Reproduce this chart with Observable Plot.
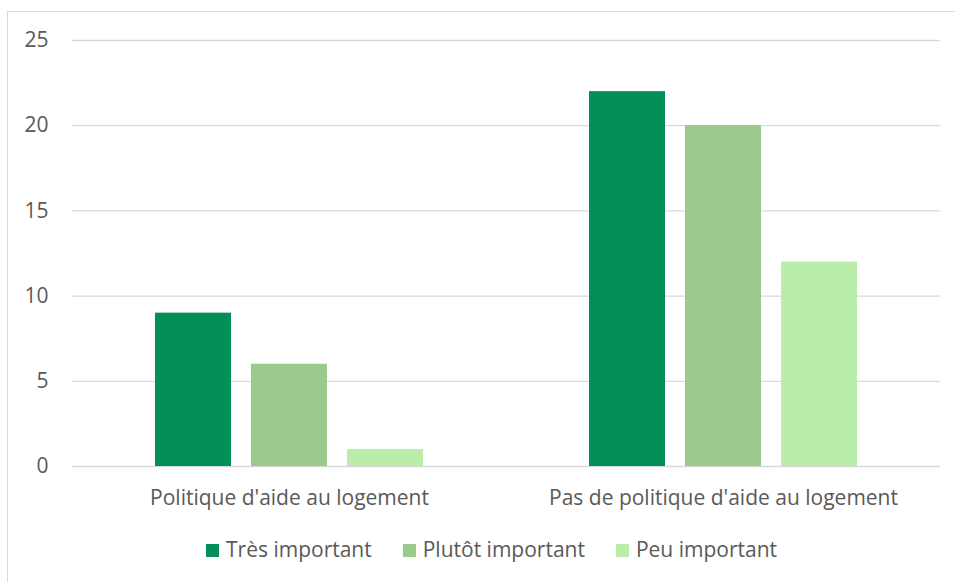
<!DOCTYPE html>
<html><head><meta charset="utf-8">
<script src="https://cdn.jsdelivr.net/npm/d3@7"></script>
<script src="https://cdn.jsdelivr.net/npm/@observablehq/plot@0.6"></script>
<style>
body{margin:0;background:#fff;font-family:"Open Sans",sans-serif;}
#frame{position:absolute;left:7px;top:11px;width:1000px;height:600px;border:1px solid #d9d9d9;box-sizing:border-box}
#chart{position:absolute;left:0;top:0}
#legend{position:absolute;left:206px;top:537px;display:flex;gap:31px;font-size:21px;line-height:25px;color:#595959;white-space:nowrap}
.item{display:flex;align-items:center}
.sw{width:13px;height:13px;margin-right:7px;margin-top:1px}
</style></head>
<body>
<div id="frame"></div>
<div id="chart"></div>
<div id="legend"></div>
<script>
const categories = ["Politique d'aide au logement", "Pas de politique d'aide au logement"];
const series = ["Très important", "Plutôt important", "Peu important"];
const valsPolitique = [9, 6, 1];
const valsPasPolitique = [22, 20, 12];
const colors = ["#038f58", "#9bca8d", "#bbedaa"];
const yTicks = [0, 5, 10, 15, 20, 25];

const data = [];
[valsPolitique, valsPasPolitique].forEach((vals, ci) => {
  vals.forEach((v, si) => data.push({category: categories[ci], series: series[si], value: v}));
});

const chart = Plot.plot({
  width: 955,
  height: 520,
  marginLeft: 71,
  marginRight: 15,
  marginTop: 40,
  marginBottom: 54,
  style: {fontFamily: "'Open Sans', sans-serif", fontSize: "21px", color: "#595959", background: "transparent"},
  fx: {domain: categories, padding: 0, label: null},
  x: {domain: series, paddingInner: 0.21, paddingOuter: 0.86, axis: null},
  y: {domain: [0, 25], label: null},
  color: {domain: series, range: colors},
  marks: [
    Plot.ruleY(yTicks, {stroke: "#d9d9d9", strokeWidth: 1.3}),
    Plot.barY(data, {fx: "category", x: "series", y: "value", fill: "series"}),
    Plot.axisY({ticks: yTicks, tickSize: 0, tickPadding: 24, label: null, fill: "#595959", fontSize: 21}),
    Plot.axisFx({anchor: "bottom", tickSize: 0, tickPadding: 24, label: null, fill: "#595959", fontSize: 21})
  ]
});
document.getElementById("chart").appendChild(chart);

const legend = document.getElementById("legend");
series.forEach((s, i) => {
  const it = document.createElement("div");
  it.className = "item";
  const sw = document.createElement("div");
  sw.className = "sw";
  sw.style.background = colors[i];
  const t = document.createElement("span");
  t.textContent = s;
  it.appendChild(sw); it.appendChild(t);
  legend.appendChild(it);
});
</script>
</body></html>
